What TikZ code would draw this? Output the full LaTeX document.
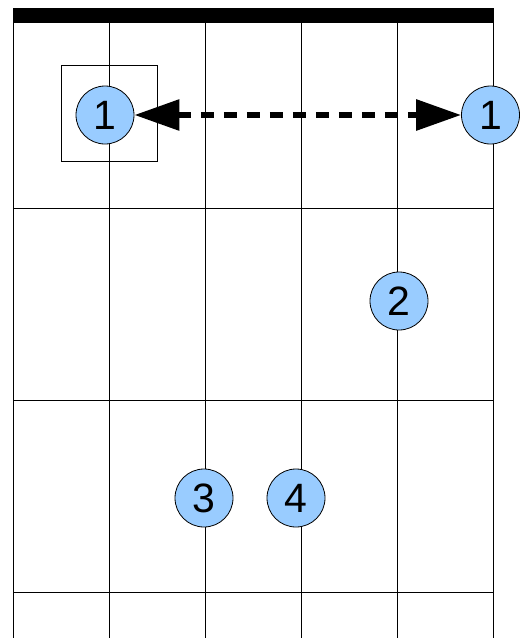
\documentclass[tikz,border=0pt]{standalone}
\usepackage{fontspec}
\setmainfont{Liberation Sans}
\usetikzlibrary{arrows.meta,positioning}
\definecolor{dotblue}{HTML}{99CCFF}

\begin{document}
\begin{tikzpicture}[
    x=1pt, y=-1pt,
    grid/.style={line width=1pt},
    finger/.style={circle, draw, line width=0.8pt, fill=dotblue, minimum size=58pt, inner sep=0pt, font=\fontsize{41}{44}\selectfont},
    marker/.style={draw, line width=0.8pt, minimum size=96pt, inner sep=0pt},
    slide/.style={{Triangle[length=45pt,width=30pt]}-{Triangle[length=45pt,width=30pt]}, line width=6pt, dash pattern=on 13pt off 10pt}
]
\useasboundingbox (0,0) rectangle (529,638);
\foreach \x in {13.5,109.5,205.5,301,397,493}
    \draw[grid] (\x,8) -- (\x,638);
\foreach \y in {208,400,592}
    \draw[grid] (13.5,\y) -- (493,\y);
\fill (13.5,8) rectangle (493,23);
\node[marker] (box) at (109.5,113.5) {};
\node[finger] (f1a) at (105,115) {1};
\node[finger] (f1b) at (490.5,115) {1};
\node[finger] (f2) at (399,301) {2};
\node[finger] (f3) at (204,498) {3};
\node[finger] (f4) at (296,498) {4};
\draw[slide] (f1a) -- (f1b);
\end{tikzpicture}
\end{document}
